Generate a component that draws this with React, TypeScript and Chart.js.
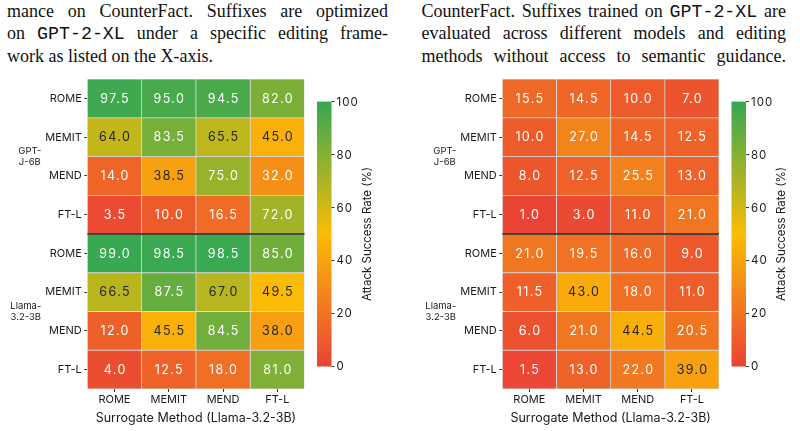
import React, { useEffect, useRef } from 'react';
import { Chart, registerables } from 'chart.js';

Chart.register(...registerables);

const methods = ['ROME', 'MEMIT', 'MEND', 'FT-L'];
const rowLabels = ['ROME', 'MEMIT', 'MEND', 'FT-L', 'ROME', 'MEMIT', 'MEND', 'FT-L'];
const groupLabels = [['GPT-', 'J-6B'], ['Llama-', '3.2-3B']];
const xTitle = 'Surrogate Method (Llama-3.2-3B)';
const cbTitle = 'Attack Success Rate (%)';
const cbTicks = [0, 20, 40, 60, 80, 100];
const cmapColors = ['#EA4335', '#FBBC05', '#34A853'];

// Left heatmap (suffixes optimized per editing framework)
const leftGptj = [
  [97.5, 95.0, 94.5, 82.0],
  [64.0, 83.5, 65.5, 45.0],
  [14.0, 38.5, 75.0, 32.0],
  [3.5, 10.0, 16.5, 72.0],
];
const leftLlama = [
  [99.0, 98.5, 98.5, 85.0],
  [66.5, 87.5, 67.0, 49.5],
  [12.0, 45.5, 84.5, 38.0],
  [4.0, 12.5, 18.0, 81.0],
];
// Right heatmap (no semantic guidance)
const rightGptj = [
  [15.5, 14.5, 10.0, 7.0],
  [10.0, 27.0, 14.5, 12.5],
  [8.0, 12.5, 25.5, 13.0],
  [1.0, 3.0, 11.0, 21.0],
];
const rightLlama = [
  [21.0, 19.5, 16.0, 9.0],
  [11.5, 43.0, 18.0, 11.0],
  [6.0, 21.0, 44.5, 20.5],
  [1.5, 13.0, 22.0, 39.0],
];

// Caption lines ("`" marks monospace words)
const leftCaption = [
  'mance on CounterFact. Suffixes are optimized',
  'on `GPT-2-XL under a specific editing frame-',
  'work as listed on the X-axis.',
];
const rightCaption = [
  'CounterFact. Suffixes trained on `GPT-2-XL are',
  'evaluated across different models and editing',
  'methods without access to semantic guidance.',
];

const FONT = 'Inter';
const TEXT = '#1a1a1a';

function hexToRgb(h: string) {
  const n = parseInt(h.slice(1), 16);
  return [(n >> 16) & 255, (n >> 8) & 255, n & 255];
}
function cmapRgb(t: number) {
  const tt = Math.max(0, Math.min(1, t));
  const seg = tt <= 0.5 ? 0 : 1;
  const f = (tt - seg * 0.5) / 0.5;
  const a = hexToRgb(cmapColors[seg]);
  const b = hexToRgb(cmapColors[seg + 1]);
  return a.map((v, i) => v + (b[i] - v) * f);
}
function cmap(t: number) {
  const c = cmapRgb(t).map((v) => Math.round(v));
  return `rgb(${c[0]},${c[1]},${c[2]})`;
}
function lum(t: number) {
  const c = cmapRgb(t).map((v) => {
    const s = v / 255;
    return s <= 0.03928 ? s / 12.92 : Math.pow((s + 0.055) / 1.055, 2.4);
  });
  return 0.2126 * c[0] + 0.7152 * c[1] + 0.0722 * c[2];
}

function spacedText(ctx: any, text: string, x: number, y: number, spacing: number) {
  if ('letterSpacing' in ctx) {
    ctx.letterSpacing = `${spacing}px`;
    const w = ctx.measureText(text).width;
    const align = ctx.textAlign;
    ctx.textAlign = 'left';
    const start = align === 'center' ? x - (w - spacing) / 2 : x;
    ctx.fillText(text, start, y);
    ctx.textAlign = align;
    ctx.letterSpacing = '0px';
  } else {
    ctx.fillText(text, x, y);
  }
}

type HeatProps = { values: number[][]; left: number; yWidth: number; rightPad: number };

function Heatmap({ values, left, yWidth, rightPad }: HeatProps) {
  const ref = useRef<HTMLCanvasElement>(null);
  useEffect(() => {
    const canvas = ref.current!;
    const overlay = {
      id: 'overlay',
      afterDatasetsDraw(chart: any) {
        const ctx = chart.ctx;
        const ca = chart.chartArea;
        ctx.save();
        ctx.font = `12.5px ${FONT}`;
        ctx.textAlign = 'center';
        ctx.textBaseline = 'middle';
        chart.data.datasets.forEach((ds: any, c: number) => {
          const meta = chart.getDatasetMeta(c);
          meta.data.forEach((el: any, r: number) => {
            const v = values[r][c];
            const p = el.getCenterPoint();
            ctx.fillStyle = lum(v / 100) > 0.408 ? '#262626' : '#ffffff';
            spacedText(ctx, v.toFixed(1), p.x, p.y + 0.5, 1.4);
          });
        });
        const ys = chart.scales.y;
        const sepY = (ys.getPixelForValue(3) + ys.getPixelForValue(4)) / 2;
        ctx.strokeStyle = '#222';
        ctx.lineWidth = 1.5;
        ctx.beginPath();
        ctx.moveTo(ca.left, sepY);
        ctx.lineTo(ca.right, sepY);
        ctx.stroke();
        ctx.restore();
      },
      afterDraw(chart: any) {
        const ctx = chart.ctx;
        const ca = chart.chartArea;
        const ys = chart.scales.y;
        ctx.save();
        ctx.font = `9.5px ${FONT}`;
        ctx.fillStyle = TEXT;
        ctx.textBaseline = 'middle';
        ctx.textAlign = 'center';
        groupLabels.forEach((lines, g) => {
          const yc = (ys.getPixelForValue(g * 4) + ys.getPixelForValue(g * 4 + 3)) / 2;
          const w = Math.max(...lines.map((l) => ctx.measureText(l).width));
          const xc = ca.left - 46 - w / 2;
          lines.forEach((l, i) => {
            ctx.fillText(l, xc, yc + (i - (lines.length - 1) / 2) * 10.5);
          });
        });
        const h = (ca.bottom - ca.top) * 0.855;
        const cy = (ca.top + ca.bottom) / 2;
        const top = cy - h / 2;
        const bot = cy + h / 2;
        const x0 = ca.right + 12.5;
        const w = 14.5;
        const grad = ctx.createLinearGradient(0, bot, 0, top);
        cmapColors.forEach((col, i) => grad.addColorStop(i / (cmapColors.length - 1), col));
        ctx.fillStyle = grad;
        ctx.fillRect(x0, top, w, h);
        const vmin = cbTicks[0];
        const vmax = cbTicks[cbTicks.length - 1];
        ctx.strokeStyle = '#333';
        ctx.lineWidth = 1;
        ctx.font = `11.5px ${FONT}`;
        ctx.fillStyle = TEXT;
        ctx.textAlign = 'left';
        cbTicks.forEach((t) => {
          const y = bot - ((t - vmin) / (vmax - vmin)) * h;
          ctx.beginPath();
          ctx.moveTo(x0 + w, y);
          ctx.lineTo(x0 + w + 3, y);
          ctx.stroke();
          spacedText(ctx, String(t), x0 + w + 5, y + 0.5, 1);
        });
        ctx.translate(ca.right + 63, cy);
        ctx.rotate(-Math.PI / 2);
        ctx.textAlign = 'center';
        ctx.font = `11.5px ${FONT}`;
        ctx.fillText(cbTitle, 0, 0);
        ctx.restore();
      },
    };
    const chart = new Chart(canvas, {
      type: 'bar',
      data: {
        labels: rowLabels,
        datasets: methods.map((m, c) => ({
          label: m,
          data: rowLabels.map(() => [c, c + 1]),
          backgroundColor: values.map((row) => cmap(row[c] / 100)),
          borderColor: '#d6d6d6',
          borderWidth: 0.75,
          borderSkipped: false,
          grouped: false,
          barPercentage: 1,
          categoryPercentage: 1,
        })),
      } as any,
      options: {
        indexAxis: 'y',
        responsive: false,
        animation: false,
        layout: { padding: { top: 9, right: rightPad, left: 0, bottom: 0 } },
        plugins: { legend: { display: false }, tooltip: { enabled: false } },
        scales: {
          x: {
            type: 'linear',
            min: 0,
            max: 4,
            afterBuildTicks: (s: any) => {
              s.ticks = methods.map((_, i) => ({ value: i + 0.5 }));
            },
            afterFit: (s: any) => {
              s.height = 42;
            },
            ticks: {
              callback: (_v: any, i: number) => methods[i],
              font: { family: FONT, size: 11 },
              color: TEXT,
              padding: 1,
              maxRotation: 0,
              autoSkip: false,
            },
            grid: { drawOnChartArea: false, tickLength: 3, color: '#333' },
            border: { display: false },
            title: {
              display: true,
              text: xTitle,
              font: { family: FONT, size: 12.5 },
              color: TEXT,
              padding: { top: 0, bottom: 5.5 },
            },
          },
          y: {
            type: 'category',
            offset: true,
            afterFit: (s: any) => {
              s.width = yWidth;
            },
            ticks: {
              font: { family: FONT, size: 11 },
              color: TEXT,
              padding: 2.5,
              autoSkip: false,
            },
            grid: { offset: false, drawOnChartArea: false, tickLength: 3, color: '#333' },
            border: { display: false },
          },
        },
      } as any,
      plugins: [overlay],
    });
    return () => chart.destroy();
  }, [values, yWidth, rightPad]);
  return (
    <canvas
      ref={ref}
      width={400}
      height={361}
      style={{ position: 'absolute', left, top: 70, width: 400, height: 361 }}
    />
  );
}

const SERIF = '"Liberation Serif", "Times New Roman", serif';
const MONO = '"Liberation Mono", "DejaVu Sans Mono", monospace';

function CaptionLine({ text, x, y, w, justify }: { text: string; x: number; y: number; w: number; justify: boolean }) {
  const words = text.split(' ');
  return (
    <div
      style={{
        position: 'absolute',
        left: x,
        top: y,
        width: w,
        height: 22.5,
        display: 'flex',
        alignItems: 'baseline',
        justifyContent: justify ? 'space-between' : 'flex-start',
        gap: justify ? 0 : 4.5,
        whiteSpace: 'nowrap',
        fontFamily: SERIF,
        fontSize: 18,
        lineHeight: '22.5px',
        color: '#111',
      }}
    >
      {words.map((wd, i) =>
        wd.startsWith('`') ? (
          <span key={i} style={{ fontFamily: MONO, fontSize: 18.3 }}>
            {wd.slice(1)}
          </span>
        ) : (
          <span key={i}>{wd}</span>
        )
      )}
    </div>
  );
}

export default function App() {
  return (
    <div style={{ position: 'absolute', left: 0, top: 0, width: 800, height: 431, background: '#fff', overflow: 'hidden' }}>
      {leftCaption.map((t, i) => (
        <CaptionLine key={'l' + i} text={t} x={7} y={-0.5 + i * 22.5} w={381} justify={i < leftCaption.length - 1} />
      ))}
      {rightCaption.map((t, i) => (
        <CaptionLine key={'r' + i} text={t} x={421.5} y={-0.5 + i * 22.5} w={364.5} justify />
      ))}
      <Heatmap values={[...leftGptj, ...leftLlama]} left={0} yWidth={87.3} rightPad={95.5} />
      <Heatmap values={[...rightGptj, ...rightLlama]} left={400} yWidth={102.3} rightPad={81} />
    </div>
  );
}
